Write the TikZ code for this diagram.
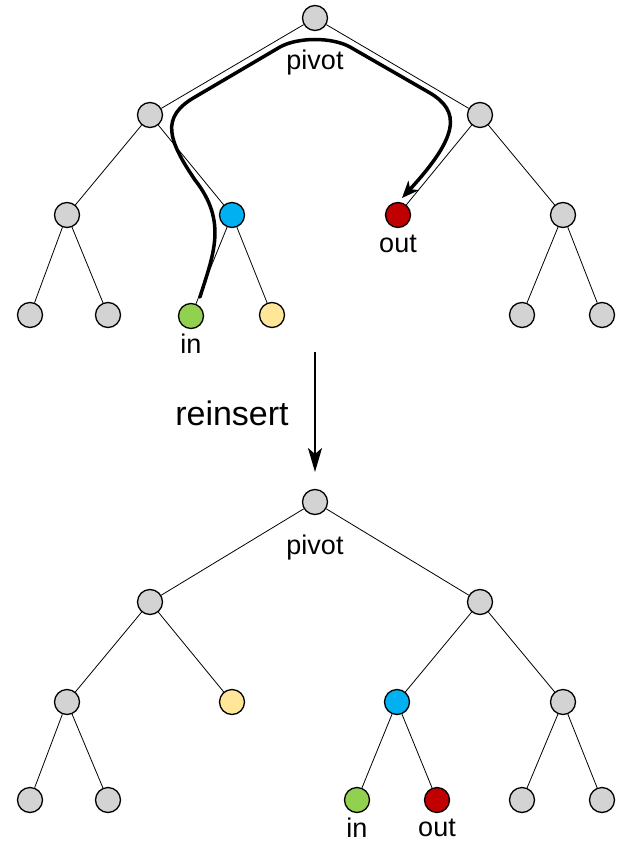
\documentclass[tikz,border=0pt]{standalone}
\usepackage{fontspec}
\setmainfont{Liberation Sans}
\usetikzlibrary{arrows.meta}
\definecolor{nodegray}{RGB}{211,211,211}
\definecolor{nodeblue}{RGB}{0,176,240}
\definecolor{nodered}{RGB}{192,0,0}
\definecolor{nodegreen}{RGB}{146,208,80}
\definecolor{nodeyellow}{RGB}{255,230,153}
\tikzset{
  tn/.style={circle, draw=black, line width=1.3pt, minimum size=25pt, inner sep=0pt, fill=nodegray},
  blue/.style={fill=nodeblue},
  red/.style={fill=nodered},
  green/.style={fill=nodegreen},
  yellow/.style={fill=nodeyellow},
  edge/.style={line width=0.8pt},
  lbl/.style={anchor=base, inner sep=0pt, font=\fontsize{27pt}{30pt}\selectfont},
  route/.style={line width=3.5pt, line cap=round, -{Stealth[length=17pt,width=14pt,inset=5pt]}},
}
\begin{document}
\begin{tikzpicture}[x=1pt,y=-1pt]
\useasboundingbox (0,0) rectangle (625,843);

% ---- upper tree ----
\node[tn] (a) at (315,18) {};
\node[tn] (aL) at (150,115) {};
\node[tn] (aR) at (480,115) {};
\node[tn] (aLL) at (67,215) {};
\node[tn,blue] (aLR) at (232,215) {};
\node[tn,red] (aRL) at (398,215) {};
\node[tn] (aRR) at (563,215) {};
\node[tn] (aLLL) at (30,315) {};
\node[tn] (aLLR) at (108,315) {};
\node[tn,green] (aLRL) at (191,316) {};
\node[tn,yellow] (aLRR) at (272,315) {};
\node[tn] (aRRL) at (522,315) {};
\node[tn] (aRRR) at (602,315) {};

\draw[edge] (a) -- (aL) (a) -- (aR)
  (aL) -- (aLL) (aL) -- (aLR) (aR) -- (aRL) (aR) -- (aRR)
  (aLL) -- (aLLL) (aLL) -- (aLLR) (aLR) -- (aLRL) (aLR) -- (aLRR)
  (aRR) -- (aRRL) (aRR) -- (aRRR);

\node[lbl] (pivA) at (315,70) {pivot};
\node[lbl] (inA) at (191,353) {in};
\node[lbl] (outA) at (398,252) {out};

% path of the moved subtree: up from the in-node, over the pivot, down to the out-node
\coordinate (rs) at (200,297);
\coordinate (re) at (402,198);
\draw[route] (rs) .. controls (213,255) and (228,222) .. (195,180)
  .. controls (168,140) and (160,117) .. (195,97)
  -- (280,47) .. controls (298,37) and (332,37) .. (350,47)
  -- (430,93) .. controls (460,111) and (460,135) .. (re);

% ---- reinsert step ----
\coordinate (ra) at (315,352);
\coordinate (rb) at (315,472);
\draw[line width=2pt, -{Stealth[length=24pt,width=14pt,inset=6pt]}] (ra) -- (rb);
\node[lbl, font=\fontsize{34pt}{38pt}\selectfont] (reins) at (232,425) {reinsert};

% ---- lower tree ----
\node[tn] (b) at (315,502) {};
\node[tn] (bL) at (150,602) {};
\node[tn] (bR) at (480,602) {};
\node[tn] (bLL) at (67,702) {};
\node[tn,yellow] (bLR) at (232,702) {};
\node[tn,blue] (bRL) at (397,702) {};
\node[tn] (bRR) at (563,702) {};
\node[tn] (bLLL) at (30,800) {};
\node[tn] (bLLR) at (108,800) {};
\node[tn,green] (bRLL) at (357,800) {};
\node[tn,red] (bRLR) at (437,800) {};
\node[tn] (bRRL) at (522,800) {};
\node[tn] (bRRR) at (602,800) {};

\draw[edge] (b) -- (bL) (b) -- (bR)
  (bL) -- (bLL) (bL) -- (bLR) (bR) -- (bRL) (bR) -- (bRR)
  (bLL) -- (bLLL) (bLL) -- (bLLR) (bRL) -- (bRLL) (bRL) -- (bRLR)
  (bRR) -- (bRRL) (bRR) -- (bRRR);

\node[lbl] (pivB) at (315,554) {pivot};
\node[lbl] (inB) at (357,837) {in};
\node[lbl] (outB) at (437,836) {out};
\end{tikzpicture}
\end{document}
